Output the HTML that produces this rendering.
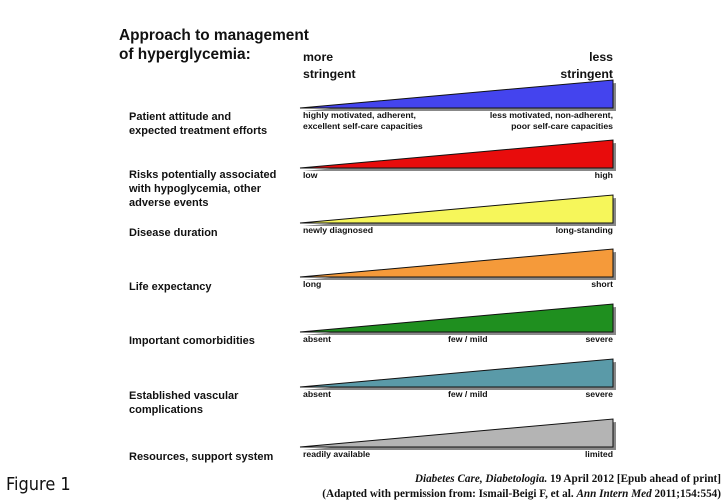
<!DOCTYPE html>
<html><head><meta charset="utf-8"><style>
body{margin:0;background:#fff;width:728px;height:504px;overflow:hidden;position:relative;font-family:"Liberation Sans",Arial,sans-serif}
.t{position:absolute;font-weight:bold;color:#111;white-space:nowrap}
.lab{font-size:11px;line-height:14px}
.sm{font-size:8.7px;line-height:11px}
</style></head><body>
<div class="t" style="left:119px;top:26px;font-size:15.4px;line-height:19px">Approach to management<br>of hyperglycemia:</div>
<div class="t" style="left:303px;top:49px;font-size:12.3px;line-height:17px">more<br>stringent</div>
<div class="t" style="right:115px;top:49px;font-size:12.3px;line-height:17px;text-align:right">less<br>stringent</div>
<svg id="ch" width="728" height="504" style="position:absolute;left:0;top:0"></svg>
<div id="labs"></div>
<div class="t" style="left:6px;top:474px;font-size:18px;font-weight:normal;font-family:'DejaVu Sans Condensed','Liberation Sans',sans-serif">Figure 1</div>
<div class="t" style="right:7px;top:472px;font-family:'Liberation Serif',serif;font-size:11.2px;line-height:15px;text-align:right"><i>Diabetes Care, Diabetologia.</i> 19 April 2012 [Epub ahead of print]<br>(Adapted with permission from: Ismail-Beigi F, et al. <i>Ann Intern Med</i> 2011;154:554)</div>
<script>
const categories=[["Patient attitude and","expected treatment efforts"],["Risks potentially associated","with hypoglycemia, other","adverse events"],["Disease duration"],["Life expectancy"],["Important comorbidities"],["Established vascular","complications"],["Resources, support system"]];
const colors=["#4444ee","#e80c0c","#f6f65a","#f59a3a","#1f8f1f","#5a9aa8","#b4b4b4"];
const baselines=[108,168,223,277,332,387,447];
const catTop=[110,168,226,280,334,389,450];
const leftLabels=[["highly motivated, adherent,","excellent self-care capacities"],["low"],["newly diagnosed"],["long"],["absent"],["absent"],["readily available"]];
const midLabels=["","","","","few / mild","few / mild",""];
const rightLabels=[["less motivated, non-adherent,","poor self-care capacities"],["high"],["long-standing"],["short"],["severe"],["severe"],["limited"]];
const x0=300,x1=613,H=28;
const svg=document.getElementById('ch'),L=document.getElementById('labs');
const ns="http://www.w3.org/2000/svg";
function mk(html,name,st,cls){const d=document.createElement('div');d.className='t '+cls;d.innerHTML=html;d.style.cssText=st;


L.appendChild(d);}
baselines.forEach((b,i)=>{
 const sh=document.createElementNS(ns,'polygon');
 sh.setAttribute('points',`${x0+3},${b+3} ${x1+3},${b-H+3} ${x1+3},${b+3}`);
 sh.setAttribute('fill','#888');
 
 
 svg.appendChild(sh);
 const p=document.createElementNS(ns,'polygon');
 p.setAttribute('points',`${x0},${b} ${x1},${b-H} ${x1},${b}`);
 p.setAttribute('fill',colors[i]);p.setAttribute('stroke','#111');p.setAttribute('stroke-width','1');
 
 
 svg.appendChild(p);
 mk(categories[i].join('<br>'),'category-label',`left:129px;top:${catTop[i]}px`,'lab');
 mk(leftLabels[i].join('<br>'),'low-end-label',`left:${x0+3}px;top:${b+2}px`,'sm');
 mk(rightLabels[i].join('<br>'),'high-end-label',`right:${728-x1}px;top:${b+2}px;text-align:right`,'sm');
 if(midLabels[i])mk(midLabels[i],'mid-label',`left:448px;top:${b+2}px`,'sm');
});
</script>
</body></html>
